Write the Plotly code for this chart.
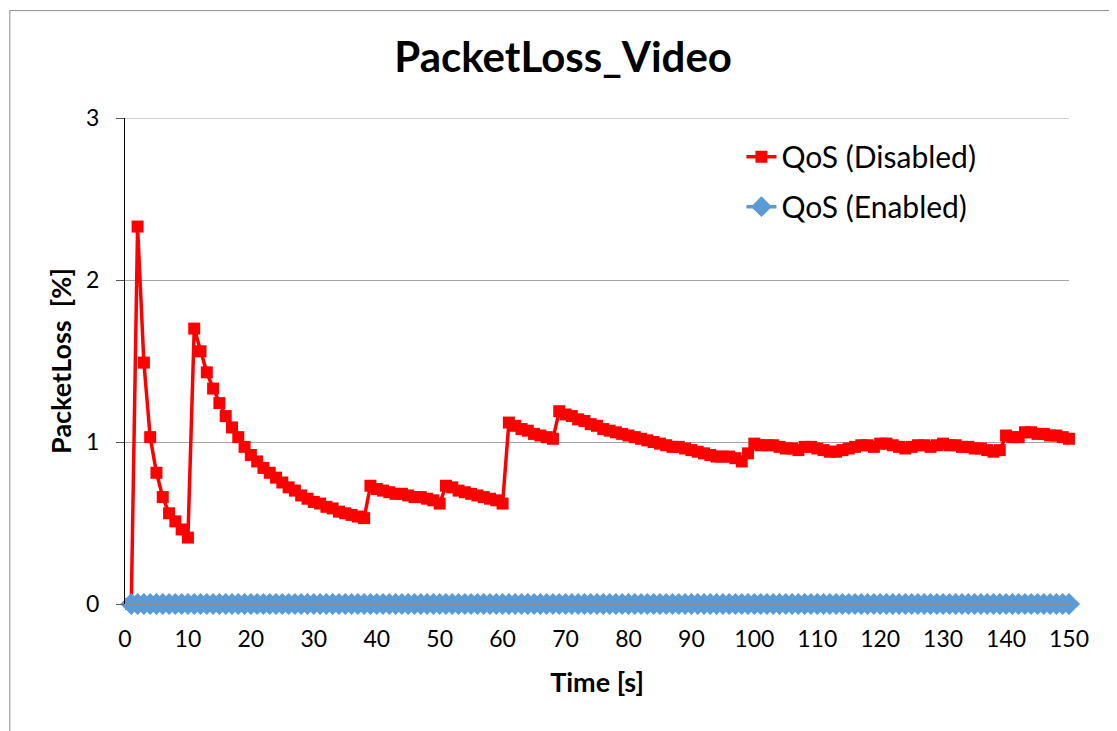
"""
PacketLoss_Video line chart: QoS disabled vs enabled
"""

import plotly.graph_objects as go

time_s = list(range(1, 151))

# Packet loss with QoS disabled (%)
loss_disabled = [
    0.00, 2.33, 1.49, 1.03, 0.81, 0.66, 0.56, 0.51, 0.46, 0.41,
    1.70, 1.56, 1.43, 1.33, 1.24, 1.16, 1.09, 1.03, 0.97, 0.92,
    0.88, 0.84, 0.81, 0.78, 0.75, 0.72, 0.70, 0.67, 0.65, 0.63,
    0.62, 0.60, 0.59, 0.57, 0.56, 0.55, 0.54, 0.53, 0.73, 0.71,
    0.70, 0.69, 0.68, 0.68, 0.67, 0.66, 0.66, 0.65, 0.64, 0.62,
    0.73, 0.72, 0.70, 0.69, 0.68, 0.67, 0.66, 0.65, 0.64, 0.62,
    1.12, 1.10, 1.08, 1.07, 1.05, 1.04, 1.03, 1.02, 1.19, 1.17,
    1.16, 1.14, 1.13, 1.11, 1.10, 1.08, 1.07, 1.06, 1.05, 1.04,
    1.03, 1.02, 1.01, 1.00, 0.99, 0.98, 0.97, 0.97, 0.96, 0.95,
    0.94, 0.93, 0.92, 0.91, 0.91, 0.91, 0.90, 0.88, 0.93, 0.99,
    0.98, 0.98, 0.98, 0.97, 0.96, 0.96, 0.95, 0.97, 0.97, 0.96,
    0.95, 0.94, 0.94, 0.95, 0.96, 0.97, 0.98, 0.98, 0.97, 0.99,
    0.99, 0.98, 0.97, 0.96, 0.97, 0.98, 0.98, 0.97, 0.98, 0.99,
    0.98, 0.98, 0.97, 0.97, 0.96, 0.96, 0.95, 0.94, 0.95, 1.04,
    1.03, 1.03, 1.06, 1.06, 1.05, 1.05, 1.04, 1.04, 1.03, 1.02,
]

# QoS enabled: no loss at all
loss_enabled = [0.0] * 150

x_ticks = list(range(0, 151, 10))
y_ticks = [0, 1, 2, 3]

FONT = "Lato, 'Open Sans', sans-serif"

fig = go.Figure()

fig.add_trace(go.Scatter(
    x=time_s, y=loss_disabled,
    name="QoS (Disabled)",
    legendgroup="dis",
    mode="lines+markers",
    cliponaxis=False,
    line=dict(color="#FF0000", width=3.5),
    marker=dict(symbol="square", size=12, color="#FF0000"),
))

fig.add_trace(go.Scatter(
    x=time_s, y=loss_enabled,
    name="QoS (Enabled)",
    legendgroup="en",
    mode="lines+markers",
    cliponaxis=False,
    line=dict(color="#5B9BD5", width=3.5),
    marker=dict(symbol="diamond", size=17, color="#5B9BD5"),
))

# outer chart frame
fig.add_shape(
    type="rect", xref="paper", yref="paper",
    x0=-0.122, x1=1.0456, y0=-0.3, y1=1.221,
    line=dict(color="#8C8C8C", width=1), layer="below",
)
# top gridline at 3 (plotly drops gridlines on the range edge)
fig.add_shape(
    type="line", xref="paper", yref="y",
    x0=0, x1=1, y0=3, y1=3,
    line=dict(color="#A6A6A6", width=1), layer="below",
)

fig.update_layout(
    width=1117, height=731,
    margin=dict(l=117, r=56, t=110, b=135),
    paper_bgcolor="white",
    plot_bgcolor="white",
    font=dict(family=FONT, size=22, color="black"),
    showlegend=True,
    title=dict(
        text="<b>PacketLoss_Video</b>",
        x=0.497, xanchor="center",
        y=0.932, yanchor="middle",
        font=dict(size=42, family=FONT, color="black"),
    ),
    legend=dict(
        x=0.653, y=0.974, xanchor="left", yanchor="top",
        font=dict(size=30, family=FONT),
        bgcolor="rgba(0,0,0,0)",
        tracegroupgap=8,
    ),
    xaxis=dict(
        range=[0, 150],
        tickvals=x_ticks,
        showgrid=False,
        zeroline=False,
        showline=True, linecolor="#8C8C8C", linewidth=1,
        ticks="", ticklen=0,
        ticklabelstandoff=14,
        tickfont=dict(size=23),
        title=dict(text="<b>Time [s]</b>", font=dict(size=27), standoff=22),
    ),
    yaxis=dict(
        range=[0, 3],
        tickvals=y_ticks,
        showgrid=True, gridcolor="#A6A6A6", gridwidth=1,
        zeroline=False,
        showline=True, linecolor="black", linewidth=1,
        ticks="outside", ticklen=8, tickcolor="#595959",
        ticklabelstandoff=12,
        tickfont=dict(size=23),
        title=dict(text="<b>PacketLoss  [%]</b>", font=dict(size=27), standoff=6),
    ),
)

fig.write_html("out.html")
